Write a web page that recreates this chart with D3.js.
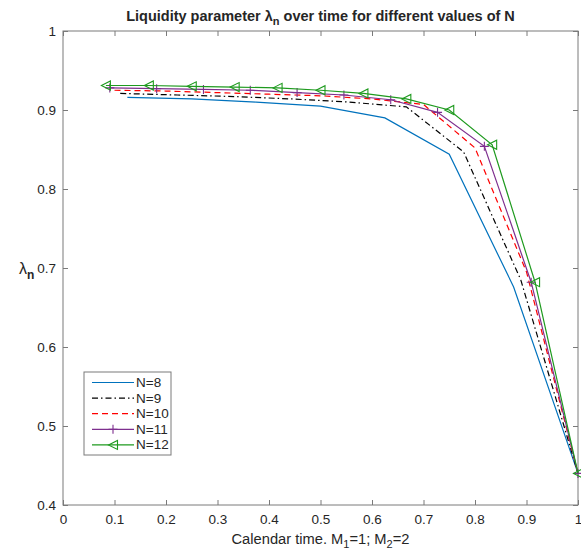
<!DOCTYPE html>
<html>
<head>
<meta charset="utf-8">
<script src="https://cdn.jsdelivr.net/npm/d3@7/dist/d3.min.js"></script>
<style>
  body { margin: 0; background: #fff; }
  text { font-family: "Liberation Sans", Arial, Helvetica, sans-serif; fill: #262626; }
</style>
</head>
<body>
<svg id="chart" width="581" height="554"></svg>
<script>
// series labels
var seriesNames = ["N=8", "N=9", "N=10", "N=11", "N=12"];

// calendar time points (k/N)
var time8  = [1/8, 2/8, 3/8, 4/8, 5/8, 6/8, 7/8, 1];
var time9  = [1/9, 2/9, 3/9, 4/9, 5/9, 6/9, 7/9, 8/9, 1];
var time10 = [0.1, 0.2, 0.3, 0.4, 0.5, 0.6, 0.7, 0.8, 0.9, 1];
var time11 = [1/11, 2/11, 3/11, 4/11, 5/11, 6/11, 7/11, 8/11, 9/11, 10/11, 1];
var time12 = [1/12, 2/12, 3/12, 4/12, 5/12, 6/12, 7/12, 8/12, 9/12, 10/12, 11/12, 1];

// lambda_n
var lambda8  = [0.916, 0.914, 0.910, 0.905, 0.890, 0.844, 0.676, 0.440];
var lambda9  = [0.921, 0.919, 0.917, 0.914, 0.910, 0.904, 0.847, 0.685, 0.440];
var lambda10 = [0.925, 0.924, 0.922, 0.920, 0.918, 0.914, 0.907, 0.852, 0.695, 0.440];
var lambda11 = [0.928, 0.927, 0.926, 0.925, 0.922, 0.919, 0.913, 0.897, 0.854, 0.682, 0.440];
var lambda12 = [0.931, 0.931, 0.930, 0.929, 0.928, 0.925, 0.921, 0.914, 0.900, 0.856, 0.682, 0.440];

var xTicks = [0, 0.1, 0.2, 0.3, 0.4, 0.5, 0.6, 0.7, 0.8, 0.9, 1];
var yTicks = [0.4, 0.5, 0.6, 0.7, 0.8, 0.9, 1];

var svg = d3.select('#chart');
var margin = {top: 31, right: 3, bottom: 49, left: 63};
var width = 581 - margin.left - margin.right;
var height = 554 - margin.top - margin.bottom;
var axisColor = '#7a7a7a';

var x = d3.scaleLinear().domain([0, 1]).range([0, width]);
var y = d3.scaleLinear().domain([0.4, 1]).range([height, 0]);

var g = svg.append('g').attr('transform', 'translate(' + margin.left + ',' + margin.top + ')');

// box + inward ticks on all four sides
function styleAxis(sel) {
  sel.select('.domain').remove();
  sel.selectAll('line').attr('stroke', axisColor);
  sel.selectAll('text').style('font-size', '13.5px').attr('fill', '#262626');
}
g.append('g').attr('transform', 'translate(0,' + height + ')')
  .call(d3.axisBottom(x).tickValues(xTicks).tickSize(-5).tickPadding(9)
    .tickFormat(function (d) { return d === 0 ? '0' : d === 1 ? '1' : d3.format('.1f')(d); }))
  .call(styleAxis);
g.append('g')
  .call(d3.axisTop(x).tickValues(xTicks).tickSize(-5).tickFormat(''))
  .call(styleAxis);
g.append('g')
  .call(d3.axisLeft(y).tickValues(yTicks).tickSize(-5).tickPadding(7)
    .tickFormat(function (d) { return d === 1 ? '1' : d3.format('.1f')(d); }))
  .call(styleAxis);
g.append('g').attr('transform', 'translate(' + width + ',0)')
  .call(d3.axisRight(y).tickValues(yTicks).tickSize(-5).tickFormat(''))
  .call(styleAxis);
g.append('rect')
  .attr('width', width).attr('height', height)
  .attr('fill', 'none').attr('stroke', axisColor).attr('stroke-width', 1);

var series = [
  {name: seriesNames[0], t: time8,  v: lambda8,  color: '#0072BD', dash: null,        marker: null},
  {name: seriesNames[1], t: time9,  v: lambda9,  color: '#000000', dash: '6,3,1.5,3', marker: null},
  {name: seriesNames[2], t: time10, v: lambda10, color: '#FF0000', dash: '6,4',       marker: null},
  {name: seriesNames[3], t: time11, v: lambda11, color: '#7E2F8E', dash: null,        marker: 'plus'},
  {name: seriesNames[4], t: time12, v: lambda12, color: '#1E9A1E', dash: null,        marker: 'tri'}
];

var line = d3.line()
  .x(function (d) { return x(d[0]); })
  .y(function (d) { return y(d[1]); });

function drawMarker(sel, type, cx, cy, color) {
  if (type === 'plus') {
    sel.append('path')
      .attr('d', 'M' + (cx - 4.5) + ',' + cy + 'H' + (cx + 4.5) + 'M' + cx + ',' + (cy - 4.5) + 'V' + (cy + 4.5))
      .attr('stroke', color).attr('stroke-width', 1.1).attr('fill', 'none');
  } else if (type === 'tri') {
    sel.append('path')
      .attr('d', 'M' + (cx - 4.5) + ',' + cy + 'L' + (cx + 4.5) + ',' + (cy - 4.5) + 'L' + (cx + 4.5) + ',' + (cy + 4.5) + 'Z')
      .attr('stroke', color).attr('stroke-width', 1.1).attr('fill', 'none');
  }
}

series.forEach(function (s) {
  var pts = s.t.map(function (t, i) { return [t, s.v[i]]; });
  g.append('path')
    .datum(pts)
    .attr('d', line)
    .attr('fill', 'none')
    .attr('stroke', s.color)
    .attr('stroke-width', 1.2)
    .attr('stroke-dasharray', s.dash);
  if (s.marker) {
    var mg = g.append('g');
    pts.forEach(function (p) { drawMarker(mg, s.marker, x(p[0]), y(p[1]), s.color); });
  }
});

// legend
var lg = svg.append('g').attr('transform', 'translate(84,372)');
lg.append('rect').attr('width', 87).attr('height', 83)
  .attr('fill', '#fff').attr('stroke', axisColor).attr('stroke-width', 1);
series.forEach(function (s, i) {
  var ry = 10.5 + i * 15.6;
  lg.append('line')
    .attr('x1', 8).attr('x2', 50).attr('y1', ry).attr('y2', ry)
    .attr('stroke', s.color).attr('stroke-width', 1.2)
    .attr('stroke-dasharray', s.dash);
  if (s.marker) drawMarker(lg, s.marker, 29, ry, s.color);
  lg.append('text').attr('x', 52).attr('y', ry + 4.5)
    .style('font-size', '13.5px').text(s.name);
});

// title
var title = svg.append('text')
  .attr('x', margin.left + width / 2).attr('y', 21)
  .attr('text-anchor', 'middle')
  .style('font-size', '14.5px').style('font-weight', 'bold');
title.append('tspan').text('Liquidity parameter \u03bb');
title.append('tspan').attr('dy', 4).style('font-size', '11px').text('n');
title.append('tspan').attr('dy', -4).text(' over time for different values of N');

// x label
var xl = svg.append('text')
  .attr('x', margin.left + width / 2).attr('y', 544)
  .attr('text-anchor', 'middle')
  .style('font-size', '14.7px');
xl.append('tspan').text('Calendar time. M');
xl.append('tspan').attr('dy', 4).style('font-size', '11px').text('1');
xl.append('tspan').attr('dy', -4).text('=1; M');
xl.append('tspan').attr('dy', 4).style('font-size', '11px').text('2');
xl.append('tspan').attr('dy', -4).text('=2');

// y label
var yl = svg.append('text')
  .attr('x', 19).attr('y', 274)
  .style('font-size', '16px');
yl.append('tspan').text('\u03bb');
yl.append('tspan').attr('dy', 5).style('font-size', '12px').style('font-weight', 'bold').text('n');
</script>
</body>
</html>
